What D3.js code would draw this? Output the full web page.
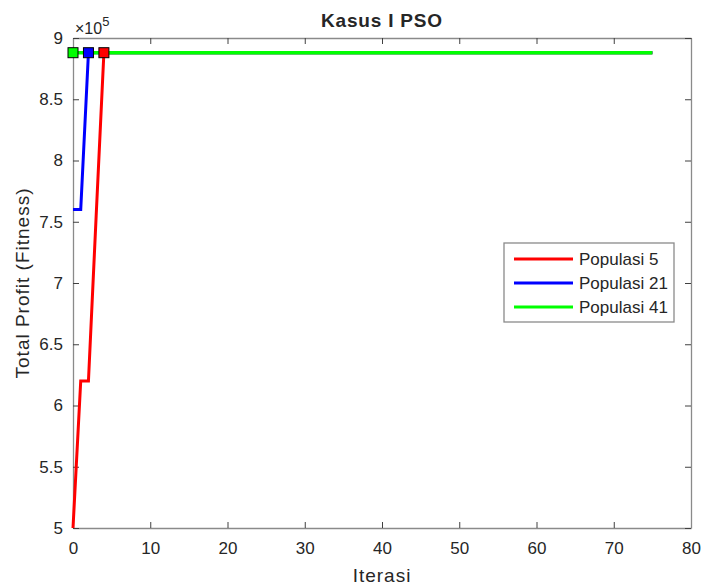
<!DOCTYPE html>
<html>
<head>
<meta charset="utf-8">
<script src="https://cdn.jsdelivr.net/npm/d3@7"></script>
<style>
  body { margin: 0; background: #fff; }
  text { font-family: "Liberation Sans", Arial, sans-serif; fill: #262626; }
</style>
</head>
<body>
<div id="chart"></div>
<script>
// iterations where each series changes value, and the values there (x 1e5)
const iterRed = [0, 1, 2, 3, 4, 75];
const valRed = [5.0, 6.2, 6.2, 7.55, 8.88, 8.88];
const iterBlue = [0, 1, 2, 75];
const valBlue = [7.6, 7.6, 8.88, 8.88];
const iterGreen = [0, 75];
const valGreen = [8.88, 8.88];

// first iteration reaching the best value (marker)
const bestIter = [4, 2, 0];
const seriesNames = ["Populasi 5", "Populasi 21", "Populasi 41"];
const seriesColors = ["#ff0000", "#0000ff", "#00ff00"];

const xTicks = [0, 10, 20, 30, 40, 50, 60, 70, 80];
const yTicks = [5, 5.5, 6, 6.5, 7, 7.5, 8, 8.5, 9];

const W = 704, H = 588;
const margin = { top: 38, right: 13, bottom: 60, left: 73 };
const width = W - margin.left - margin.right,
  height = H - margin.top - margin.bottom;

const svg = d3.select("#chart").append("svg")
  .attr("width", W).attr("height", H);
const g = svg.append("g")
  .attr("transform", "translate(" + margin.left + "," + margin.top + ")");

const x = d3.scaleLinear().domain([0, 80]).range([0, width]);
const y = d3.scaleLinear().domain([5, 9]).range([height, 0]);

// axes (box with inward ticks on all sides)
function styleAxis(sel) {
  sel.selectAll(".domain").attr("stroke", "#8a8a8a").attr("stroke-width", 1.3);
  sel.selectAll(".tick line").attr("stroke", "#404040");
  sel.selectAll(".tick text").style("font-size", "17px").attr("fill", "#333");
}
g.append("g").attr("transform", "translate(0," + height + ")")
  .call(d3.axisBottom(x).tickValues(xTicks).tickSizeInner(-6).tickSizeOuter(0).tickPadding(14))
  .call(styleAxis);
g.append("g")
  .call(d3.axisTop(x).tickValues(xTicks).tickSizeInner(-6).tickSizeOuter(0).tickFormat(""))
  .call(styleAxis);
g.append("g")
  .call(d3.axisLeft(y).tickValues(yTicks).tickSizeInner(-6).tickSizeOuter(0).tickPadding(10)
    .tickFormat(d3.format("~g")))
  .call(styleAxis);
g.append("g").attr("transform", "translate(" + width + ",0)")
  .call(d3.axisRight(y).tickValues(yTicks).tickSizeInner(-6).tickSizeOuter(0).tickFormat(""))
  .call(styleAxis);

// lines
const series = [
  { it: iterRed, v: valRed },
  { it: iterBlue, v: valBlue },
  { it: iterGreen, v: valGreen }
];
const line = d3.line().x(d => x(d[0])).y(d => y(d[1]));

// green drawn last, slightly wider so it fully covers the others
[0, 1, 2].forEach(i => {
  const pts = series[i].it.map((t, k) => [t, series[i].v[k]]);
  g.append("path")
    .datum(pts)
    .attr("fill", "none")
    .attr("stroke", seriesColors[i])
    .attr("stroke-width", i == 2 ? 3.6 : 3)
    .attr("stroke-linejoin", "miter")
    .attr("d", line);
});

// markers at first best iteration
[0, 1, 2].forEach(i => {
  const k = series[i].it.indexOf(bestIter[i]);
  g.append("rect")
    .attr("x", x(bestIter[i]) - 5)
    .attr("y", y(series[i].v[k]) - 5)
    .attr("width", 10).attr("height", 10)
    .attr("fill", seriesColors[i])
    .attr("stroke", "#000").attr("stroke-width", 1);
});

// title and labels
svg.append("text")
  .attr("x", margin.left + width / 2).attr("y", 27)
  .attr("text-anchor", "middle")
  .style("font-size", "19px").style("font-weight", "bold")
  .style("letter-spacing", "0.8px")
  .attr("fill", "#000")
  .text("Kasus I PSO");

const expo = svg.append("text")
  .attr("x", margin.left + 2).attr("y", 34)
  .style("font-size", "16px").attr("fill", "#333");
expo.append("tspan").text("\u00d710");
expo.append("tspan").attr("dy", -8).style("font-size", "13px").text("5");

svg.append("text")
  .attr("x", margin.left + width / 2).attr("y", 582)
  .attr("text-anchor", "middle")
  .style("font-size", "19px").style("letter-spacing", "1px")
  .text("Iterasi");

svg.append("text")
  .attr("transform", "translate(29," + (margin.top + height / 2) + ") rotate(-90)")
  .attr("text-anchor", "middle")
  .style("font-size", "19px").style("letter-spacing", "1px")
  .text("Total Profit (Fitness)");

// legend
const lg = svg.append("g").attr("transform", "translate(504,243)");
lg.append("rect")
  .attr("width", 170).attr("height", 79)
  .attr("fill", "#fff").attr("stroke", "#8a8a8a").attr("stroke-width", 1.3);
seriesNames.forEach((name, i) => {
  const yy = 16 + i * 24;
  lg.append("line")
    .attr("x1", 10).attr("x2", 69).attr("y1", yy).attr("y2", yy)
    .attr("stroke", seriesColors[i]).attr("stroke-width", 3);
  lg.append("text")
    .attr("x", 75).attr("y", yy + 6)
    .style("font-size", "17px").attr("fill", "#111")
    .text(name);
});
</script>
</body>
</html>
